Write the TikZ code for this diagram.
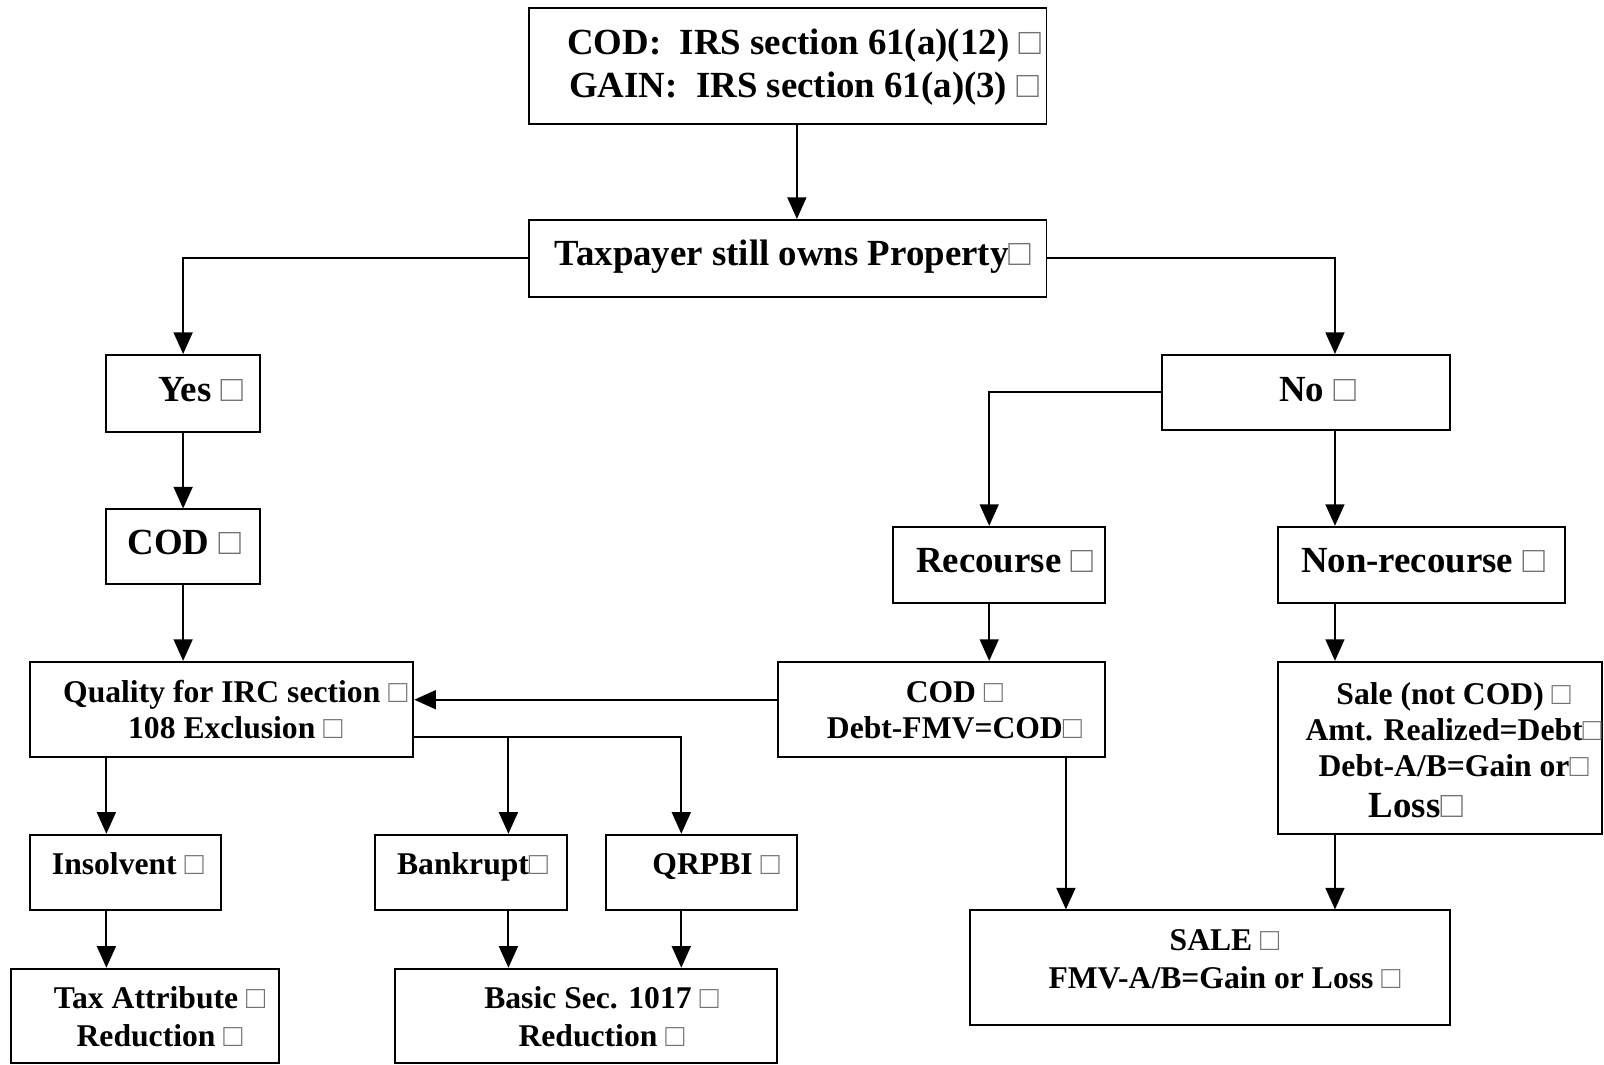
\documentclass[tikz,border=0pt]{standalone}
\usepackage{fontspec}
\setmainfont{Liberation Serif}
\usetikzlibrary{arrows.meta,calc,fit}
\newcommand{\nog}{{\mdseries\color{black!55}□}}

\begin{document}
\begin{tikzpicture}[x=0.02cm,y=-0.02cm,
	blk/.style={draw,line width=1.1pt,inner sep=0pt},
	big/.style={font=\fontsize{20.5}{23.9}\selectfont\bfseries,anchor=base,align=center,inner sep=0pt},
	sml/.style={font=\fontsize{17.6}{20}\selectfont\bfseries,anchor=base,align=center,inner sep=0pt},
	arr/.style={line width=1.1pt,-{Triangle[length=12pt,width=10.5pt]}},
	lnk/.style={line width=1.1pt}]
	\useasboundingbox (0,0) rectangle (1568,1041);

	% boxes
	\node[blk,fit={(517,8) (1023,121)}] (top) {};
	\node[blk,fit={(517,215) (1023,290)}] (tax) {};
	\node[blk,fit={(104,347) (254,422)}] (yes) {};
	\node[blk,fit={(104,498) (254,571)}] (cod) {};
	\node[blk,fit={(29,647) (404,740)}] (qual) {};
	\node[blk,fit={(1136,347) (1417,420)}] (no) {};
	\node[blk,fit={(873,515) (1080,589)}] (rec) {};
	\node[blk,fit={(1249,515) (1530,589)}] (nonrec) {};
	\node[blk,fit={(761,647) (1080,740)}] (cod2) {};
	\node[blk,fit={(1249,647) (1566,815)}] (sale) {};
	\node[blk,fit={(29,816) (216,890)}] (ins) {};
	\node[blk,fit={(367,816) (554,890)}] (bank) {};
	\node[blk,fit={(592,816) (779,890)}] (qrp) {};
	\node[blk,fit={(11,947) (273,1039)}] (attr) {};
	\node[blk,fit={(386,947) (760,1039)}] (basic) {};
	\node[blk,fit={(948,890) (1417,1002)}] (sale2) {};

	% texts (multi-line ones sit on their last line)
	\node[big] (topT) at (786,95) {COD:\ \ IRS section 61(a)(12) \nog\\GAIN:\ \ IRS section 61(a)(3) \nog};
	\node[big] (taxT) at (775,260) {Taxpayer still owns Property\nog};
	\node[big] (yesT) at (196,392) {Yes \nog};
	\node[big] (noT) at (1288,392) {No \nog};
	\node[big] (codT) at (180,542) {COD \nog};
	\node[big] (recT) at (982,560) {Recourse \nog};
	\node[big] (nonrecT) at (1391,560) {Non-recourse \nog};
	\node[sml] (qualT) at (230,722) {Quality for IRC section \nog\\108 Exclusion \nog};
	\node[sml] (cod2T) at (933,722) {COD \nog\\Debt-FMV=COD\nog};
	\node[sml] (saleT) at (1421,799) {Sale (not COD) \nog\\Amt. Realized=Debt\nog\\Debt-A/B=Gain or\nog\\[3pt]
		{\fontsize{20.5}{23.9}\selectfont Loss\nog}\hspace*{42pt}};
	\node[sml] (insT) at (125,855) {Insolvent \nog};
	\node[sml] (bankT) at (462,855) {Bankrupt\nog};
	\node[sml] (qrpT) at (700,855) {QRPBI \nog};
	\node[sml,font=\fontsize{17.6}{21}\selectfont\bfseries] (attrT) at (156,1023) {Tax Attribute \nog\\Reduction \nog};
	\node[sml,font=\fontsize{17.6}{21}\selectfont\bfseries] (basicT) at (588,1023) {Basic Sec. 1017 \nog\\Reduction \nog};
	\node[sml,font=\fontsize{17.6}{21}\selectfont\bfseries] (sale2T) at (1197,966) {SALE \nog\\FMV-A/B=Gain or Loss \nog};

	% columns of the connectors
	\coordinate (topx) at (779,0);
	\coordinate (insx) at (104,0);
	\coordinate (bkx) at (497,0);
	\coordinate (qrx) at (666,0);
	\coordinate (recx) at (967,0);
	\coordinate (salx) at (1042,0);
	\coordinate (nox) at (1305,0);
	\coordinate (inY) at (0,684);
	\coordinate (brY) at (0,720);

	\draw[arr] (topx |- top.south) -- (topx |- tax.north);
	\draw[arr] (tax.west) -| (yes.north);
	\draw[arr] (tax.east) -| (nox |- no.north);
	\draw[arr] (yes.south) -- (cod.north);
	\draw[arr] (cod.south) -- (cod.south |- qual.north);
	\draw[arr] (no.west) -| (recx |- rec.north);
	\draw[arr] (nox |- no.south) -- (nox |- nonrec.north);
	\draw[arr] (recx |- rec.south) -- (recx |- cod2.north);
	\draw[arr] (nox |- nonrec.south) -- (nox |- sale.north);
	\draw[arr] (cod2.west |- inY) -- (qual.east |- inY);
	\draw[arr] (qual.east |- brY) -| (qrx |- qrp.north);
	\draw[arr] (bkx |- brY) -- (bkx |- bank.north);
	\draw[arr] (insx |- qual.south) -- (insx |- ins.north);
	\draw[arr] (insx |- ins.south) -- (insx |- attr.north);
	\draw[arr] (bkx |- bank.south) -- (bkx |- basic.north);
	\draw[arr] (qrx |- qrp.south) -- (qrx |- basic.north);
	\draw[arr] (salx |- cod2.south) -- (salx |- sale2.north);
	\draw[arr] (nox |- sale.south) -- (nox |- sale2.north);
\end{tikzpicture}
\end{document}
